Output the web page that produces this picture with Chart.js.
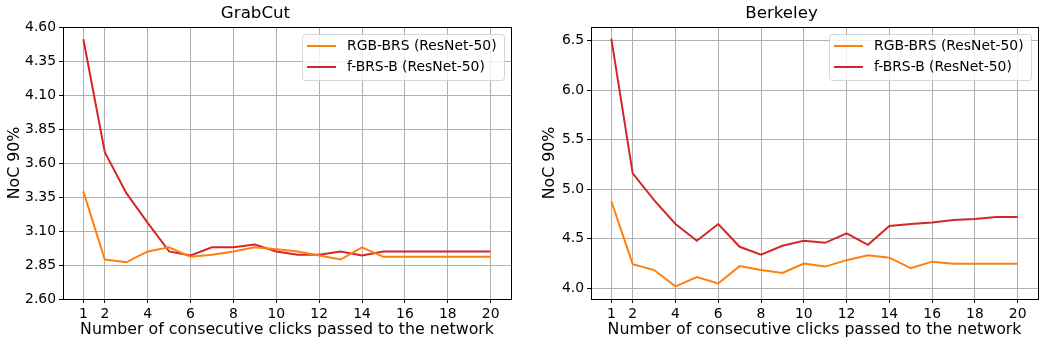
<!DOCTYPE html>
<html>
<head>
<meta charset="utf-8">
<script src="https://cdn.jsdelivr.net/npm/chart.js@4.4.0/dist/chart.umd.min.js"></script>
<style>
  html, body { margin: 0; padding: 0; background: #fff; }
  .box { position: absolute; top: 0; width: 525px; height: 346px; }
</style>
</head>
<body>
<div class="box" style="left:0"><canvas id="grabcut"></canvas></div>
<div class="box" style="left:525px"><canvas id="berkeley"></canvas></div>
<script>
// clicks on the x axis
const clicks = [1, 2, 3, 4, 5, 6, 7, 8, 9, 10, 11, 12, 13, 14, 15, 16, 17, 18, 19, 20];
const xTicks = [1, 2, 4, 6, 8, 10, 12, 14, 16, 18, 20];

// GrabCut NoC 90%
const grabRgb  = [3.39, 2.89, 2.87, 2.95, 2.98, 2.91, 2.925, 2.95, 2.98, 2.965, 2.95, 2.92, 2.89, 2.98, 2.91, 2.91, 2.91, 2.91, 2.91, 2.91];
const grabFbrs = [4.51, 3.68, 3.38, 3.16, 2.95, 2.92, 2.98, 2.98, 3.00, 2.95, 2.925, 2.925, 2.95, 2.92, 2.95, 2.95, 2.95, 2.95, 2.95, 2.95];
const grabYTicks = [2.60, 2.85, 3.10, 3.35, 3.60, 3.85, 4.10, 4.35, 4.60];

// Berkeley NoC 90%
const berkRgb  = [4.88, 4.245, 4.185, 4.02, 4.115, 4.05, 4.225, 4.185, 4.155, 4.25, 4.22, 4.285, 4.335, 4.31, 4.205, 4.27, 4.25, 4.25, 4.25, 4.25];
const berkFbrs = [6.52, 5.16, 4.89, 4.65, 4.48, 4.65, 4.42, 4.34, 4.43, 4.48, 4.46, 4.555, 4.44, 4.63, 4.65, 4.665, 4.69, 4.70, 4.72, 4.72];
const berkYTicks = [4.0, 4.5, 5.0, 5.5, 6.0, 6.5];

const seriesNames = ['RGB-BRS (ResNet-50)', 'f-BRS-B (ResNet-50)'];
const seriesColors = ['#ff7f0e', '#d62728'];

Chart.defaults.font.family = '"DejaVu Sans", sans-serif';
Chart.defaults.color = '#000';

// frame on all four sides + matplotlib-like legend in the upper right
const framePlugin = {
    id: 'frame',
    afterDraw(chart) {
        const ctx = chart.ctx;
        const a = chart.chartArea;
        ctx.save();
        ctx.strokeStyle = '#000';
        ctx.lineWidth = 1;
        ctx.strokeRect(Math.round(a.left) + 0.5, Math.round(a.top) + 0.5,
            Math.round(a.right) - Math.round(a.left), Math.round(a.bottom) - Math.round(a.top));

        // legend
        const w = 202, h = 46;
        const x0 = a.right - 7 - w, y0 = a.top + 7;
        ctx.beginPath();
        ctx.roundRect(x0 + 0.5, y0 + 0.5, w, h, 3);
        ctx.fillStyle = 'rgba(255,255,255,0.8)';
        ctx.fill();
        ctx.strokeStyle = 'rgba(204,204,204,0.8)';
        ctx.stroke();
        ctx.font = '13.9px "DejaVu Sans"';
        ctx.textBaseline = 'middle';
        seriesNames.forEach((name, i) => {
            const yy = y0 + 12 + i * 21;
            ctx.strokeStyle = seriesColors[i];
            ctx.lineWidth = 2;
            ctx.beginPath();
            ctx.moveTo(x0 + 5, yy);
            ctx.lineTo(x0 + 34, yy);
            ctx.stroke();
            ctx.fillStyle = '#000';
            ctx.fillText(name, x0 + 45, yy);
        });
        ctx.restore();
    }
};

function makeChart(id, title, rgb, fbrs, yMin, yMax, yTicks, decimals, yWidth, yTitlePad, padRight) {
    const ctx = document.getElementById(id);
    new Chart(ctx, {
        type: 'line',
        data: {
            datasets: [
                {
                    label: seriesNames[0],
                    data: clicks.map((c, i) => ({ x: c, y: rgb[i] })),
                    borderColor: seriesColors[0],
                    borderWidth: 2,
                    pointRadius: 0,
                    tension: 0
                },
                {
                    label: seriesNames[1],
                    data: clicks.map((c, i) => ({ x: c, y: fbrs[i] })),
                    borderColor: seriesColors[1],
                    borderWidth: 2,
                    pointRadius: 0,
                    tension: 0
                }
            ]
        },
        options: {
            responsive: true,
            maintainAspectRatio: false,
            animation: false,
            layout: { padding: { top: 0, right: padRight, bottom: 0, left: 0 } },
            plugins: {
                legend: { display: false },
                tooltip: { enabled: false },
                title: {
                    display: true,
                    text: title,
                    font: { size: 16.67, weight: 'normal' },
                    padding: { top: 4, bottom: 3 },
                    color: '#000'
                }
            },
            scales: {
                x: {
                    type: 'linear',
                    min: 0.05,
                    max: 20.95,
                    afterBuildTicks: (scale) => { scale.ticks = xTicks.map(v => ({ value: v })); },
                    afterFit: (scale) => { scale.height = 47; },
                    ticks: { font: { size: 13.9 }, padding: 3, maxRotation: 0, autoSkip: false, callback: v => String(v) },
                    grid: { color: '#b0b0b0', lineWidth: 1, drawTicks: true, tickLength: 4, tickColor: '#000', tickWidth: 1 },
                    border: { display: false },
                    title: {
                        display: true,
                        text: 'Number of consecutive clicks passed to the network',
                        font: { size: 15.8 },
                        padding: { top: 0, bottom: 7 }
                    }
                },
                y: {
                    min: yMin,
                    max: yMax,
                    afterBuildTicks: (scale) => { scale.ticks = yTicks.map(v => ({ value: v })); },
                    afterFit: (scale) => { scale.width = yWidth; },
                    ticks: { font: { size: 13.9 }, padding: 3, callback: v => Number(v).toFixed(decimals) },
                    grid: { color: '#b0b0b0', lineWidth: 1, drawTicks: true, tickLength: 4, tickColor: '#000', tickWidth: 1 },
                    border: { display: false },
                    title: {
                        display: true,
                        text: 'NoC 90%',
                        font: { size: 15.8 },
                        padding: { top: yTitlePad, bottom: 0 }
                    }
                }
            }
        },
        plugins: [framePlugin]
    });
}

makeChart('grabcut', 'GrabCut', grabRgb, grabFbrs, 2.60, 4.60, grabYTicks, 2, 63, 5, 14);
makeChart('berkeley', 'Berkeley', berkRgb, berkFbrs, 3.893, 6.638, berkYTicks, 1, 66, 15, 12);
</script>
</body>
</html>
